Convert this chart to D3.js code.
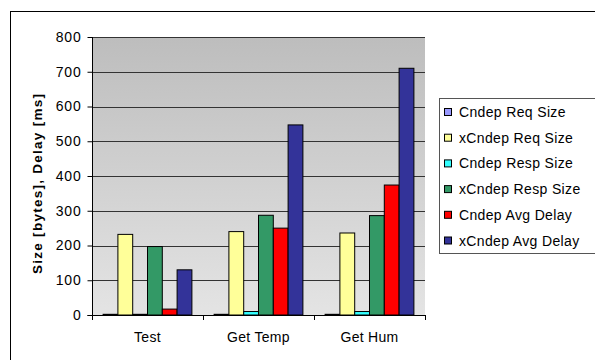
<!DOCTYPE html>
<html><head><meta charset="utf-8">
<script src="https://cdn.jsdelivr.net/npm/d3@7"></script>
<style>body{margin:0;background:#fff}svg{display:block;font-family:Arial,"Liberation Sans",sans-serif}</style>
</head><body><svg id="c" width="595" height="360"></svg>
<script>
const categories = ["Test", "Get Temp", "Get Hum"];
const seriesNames = ["Cndep Req Size", "xCndep Req Size", "Cndep Resp Size", "xCndep Resp Size", "Cndep Avg Delay", "xCndep Avg Delay"];
const cndepReqSize   = [2, 2, 2];
const xCndepReqSize  = [232, 240, 236];
const cndepRespSize  = [2, 10, 10];
const xCndepRespSize = [197, 287, 286];
const cndepAvgDelay  = [17, 250, 374];
const xCndepAvgDelay = [130, 547, 710];
const yTicks = [0, 100, 200, 300, 400, 500, 600, 700, 800];
const colors = ["#9999FF", "#FFFF99", "#33FFFF", "#339966", "#FF0000", "#333399"];
const seriesValues = [cndepReqSize, xCndepReqSize, cndepRespSize, xCndepRespSize, cndepAvgDelay, xCndepAvgDelay];

const FONT = "Arial, 'Liberation Sans', sans-serif";
const svg = d3.select("#c");
const L = 92, R = 425, T = 37, B = 315;

// outer border
svg.append("rect").attr("x", 10.5).attr("y", 11.5).attr("width", 600).attr("height", 400)
  .attr("fill", "#fff").attr("stroke", "#000").attr("stroke-width", 1);

const defs = svg.append("defs");
const g = defs.append("linearGradient").attr("id", "bg").attr("x1", 0).attr("y1", 0).attr("x2", 0).attr("y2", 1);
g.append("stop").attr("offset", "0%").attr("stop-color", "#bdbdbd");
g.append("stop").attr("offset", "100%").attr("stop-color", "#e4e4e4");

svg.append("rect").attr("x", L).attr("y", T).attr("width", R - L).attr("height", B - T).attr("fill", "url(#bg)");

const y = d3.scaleLinear().domain([0, 800]).range([B, T]);
const x0 = d3.scaleBand().domain(categories).range([L, R]).paddingInner(0).paddingOuter(0);
const x1 = d3.scaleBand().domain(seriesNames).range([0, x0.bandwidth()]).paddingOuter(0.75).paddingInner(0);

// gridlines
svg.append("g").selectAll("line").data(yTicks.filter(d => d > 0)).join("line")
  .attr("x1", L).attr("x2", R).attr("y1", d => Math.round(y(d)) + 0.5).attr("y2", d => Math.round(y(d)) + 0.5)
  .attr("stroke", "#333").attr("stroke-width", 1);

// bars
const groups = svg.append("g").selectAll("g").data(categories).join("g")
  .attr("transform", c => `translate(${x0(c)},0)`);
groups.selectAll("rect").data((c, i) => seriesNames.map((s, j) => ({s, j, v: seriesValues[j][i]}))).join("rect")
  .attr("x", d => x1(d.s)).attr("width", x1.bandwidth())
  .attr("y", d => y(d.v)).attr("height", d => B - y(d.v))
  .attr("fill", d => colors[d.j]).attr("stroke", "#000").attr("stroke-width", 1);

// y axis
const ya = svg.append("g").attr("transform", `translate(${L + 0.5},0)`)
  .call(d3.axisLeft(y).tickValues(yTicks).tickSize(5).tickPadding(6).tickFormat(d3.format("d")));
ya.selectAll("text").attr("font-size", 14).attr("fill", "#000").attr("letter-spacing", 0.8).style("font-family", FONT);
ya.selectAll("line, path").attr("stroke", "#000");
ya.select(".domain").attr("d", `M-5,${B + 0.5}H0V${T}`);

// x axis
const xa = svg.append("g").attr("transform", `translate(0,${B + 0.5})`)
  .call(d3.axisBottom(x0).tickSize(0).tickPadding(17));
xa.select(".domain").attr("d", `M${L},0H${R}`).attr("stroke", "#000");
xa.selectAll("text").attr("font-size", 14).attr("fill", "#000").attr("letter-spacing", 0.3).style("font-family", FONT);
svg.append("g").selectAll("line").data([L, ...categories.map(c => x0(c) + x0.bandwidth())]).join("line")
  .attr("x1", d => Math.round(d) + 0.5).attr("x2", d => Math.round(d) + 0.5)
  .attr("y1", B).attr("y2", B + 5).attr("stroke", "#000");

// y title
svg.append("text").attr("transform", `translate(42,184) rotate(-90)`)
  .attr("text-anchor", "middle").attr("font-size", 13.5).attr("font-weight", "bold")
  .attr("textLength", 180).attr("lengthAdjust", "spacing").text("Size [bytes], Delay [ms]");

// legend
const lg = svg.append("g");
lg.append("rect").attr("x", 439.5).attr("y", 98.5).attr("width", 156).attr("height", 155)
  .attr("fill", "#fff").attr("stroke", "#555").attr("stroke-width", 1);
const items = lg.selectAll("g").data(seriesNames).join("g")
  .attr("transform", (d, i) => `translate(0,${112 + i * 25.7})`);
items.append("rect").attr("x", 444.5).attr("y", -3.5).attr("width", 7).attr("height", 7)
  .attr("fill", (d, i) => colors[i]).attr("stroke", "#000");
items.append("text").attr("x", 459).attr("y", 5).attr("font-size", 14).attr("letter-spacing", 0.35).text(d => d);
</script></body></html>
